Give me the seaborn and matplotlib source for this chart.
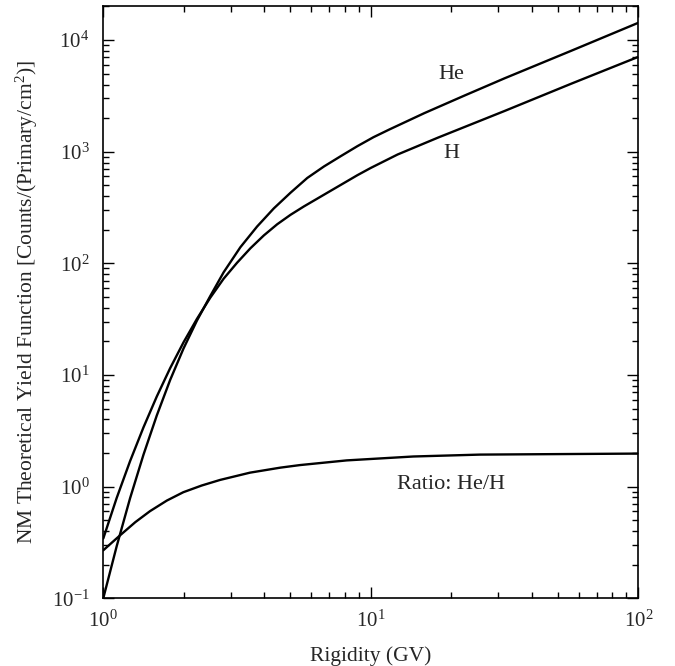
import pandas as pd
import seaborn as sns
import matplotlib.pyplot as plt

# rigidity (GV) and theoretical yield values
he_rigidity = [1.0, 1.122, 1.259, 1.413, 1.585, 1.778, 1.995, 2.239, 2.512, 2.818,
               3.255, 3.758, 4.34, 5.012, 5.788, 6.683, 7.718, 8.913, 10.23, 11.75,
               15.85, 22.39, 31.62, 56.23, 100.0]
he_yield = [0.1, 0.2917, 0.785, 1.928, 4.34, 9.02, 17.28, 30.7, 51.0, 83.2,
            139.6, 213.8, 310.8, 429.5, 582, 738, 912, 1122, 1349, 1585,
            2216, 3184, 4545, 8035, 14290]

h_rigidity = [1.0, 1.122, 1.259, 1.413, 1.585, 1.778, 1.995, 2.239, 2.512, 2.818,
              3.162, 3.548, 3.981, 4.467, 5.012, 5.623, 6.31, 7.079, 7.943, 8.913,
              10.0, 12.59, 17.78, 31.62, 56.23, 100.0]
h_yield = [0.343, 0.79, 1.689, 3.39, 6.42, 11.51, 19.61, 31.8, 49.3, 72.9,
           101.2, 136.5, 177.8, 223.9, 272.3, 323.6, 380.2, 446.7, 524.8, 616.6,
           716.1, 944, 1334, 2317, 4074, 7079]

ratio_rigidity = [1.0, 1.155, 1.318, 1.495, 1.728, 1.991, 2.332, 2.732, 3.535, 4.588,
                  5.437, 8.127, 14.42, 25.59, 100.0]
ratio_values = [0.269, 0.366, 0.481, 0.603, 0.75, 0.891, 1.023, 1.148, 1.334, 1.479,
                1.56, 1.718, 1.862, 1.936, 1.977]

labels = ['He', 'H', 'Ratio: He/H']
label_x = [20, 20, 20]
label_y = [4960, 972, 1.05]

df = pd.concat([
    pd.DataFrame({'rigidity': he_rigidity, 'yield': he_yield, 'series': 'He'}),
    pd.DataFrame({'rigidity': h_rigidity, 'yield': h_yield, 'series': 'H'}),
    pd.DataFrame({'rigidity': ratio_rigidity, 'yield': ratio_values, 'series': 'Ratio'}),
])

sns.set_style('ticks')
plt.rcParams['font.family'] = ['Liberation Serif', 'DejaVu Serif']
plt.rcParams['mathtext.fontset'] = 'custom'
plt.rcParams['mathtext.rm'] = 'Liberation Serif'
plt.rcParams['mathtext.it'] = 'Liberation Serif:italic'

fig = plt.figure(figsize=(6.75, 6.66), dpi=100)
ax = fig.add_axes([0.153, 0.1017, 0.7927, 0.8893])
ax.set(xscale='log', yscale='log')

sns.lineplot(data=df, x='rigidity', y='yield', hue='series', units='series',
             estimator=None, sort=True, palette=['black'] * 3, linewidth=1.7,
             legend=False, ax=ax)

for txt, x, y in zip(labels, label_x, label_y):
    ax.text(x, y, txt, ha='center', va='center', fontsize=16)

ax.set_xlim(1, 100)
ax.set_ylim(0.1, 2.02e4)
ax.set_xlabel('Rigidity (GV)', fontsize=15.5, labelpad=10)
ax.set_ylabel('NM Theoretical Yield Function [Counts/(Primary/cm$^2$)]',
              fontsize=15.5, labelpad=8)

ax.tick_params(which='both', direction='in', top=True, right=True,
               labelsize=15, width=1, color='black')
ax.tick_params(which='major', length=8)
ax.tick_params(which='minor', length=4.5)
ax.tick_params(axis='x', which='major', pad=9)
ax.tick_params(axis='y', which='major', pad=10)
for s in ax.spines.values():
    s.set_linewidth(1.2)
    s.set_color('black')

fig.savefig('out.png', dpi=100)
